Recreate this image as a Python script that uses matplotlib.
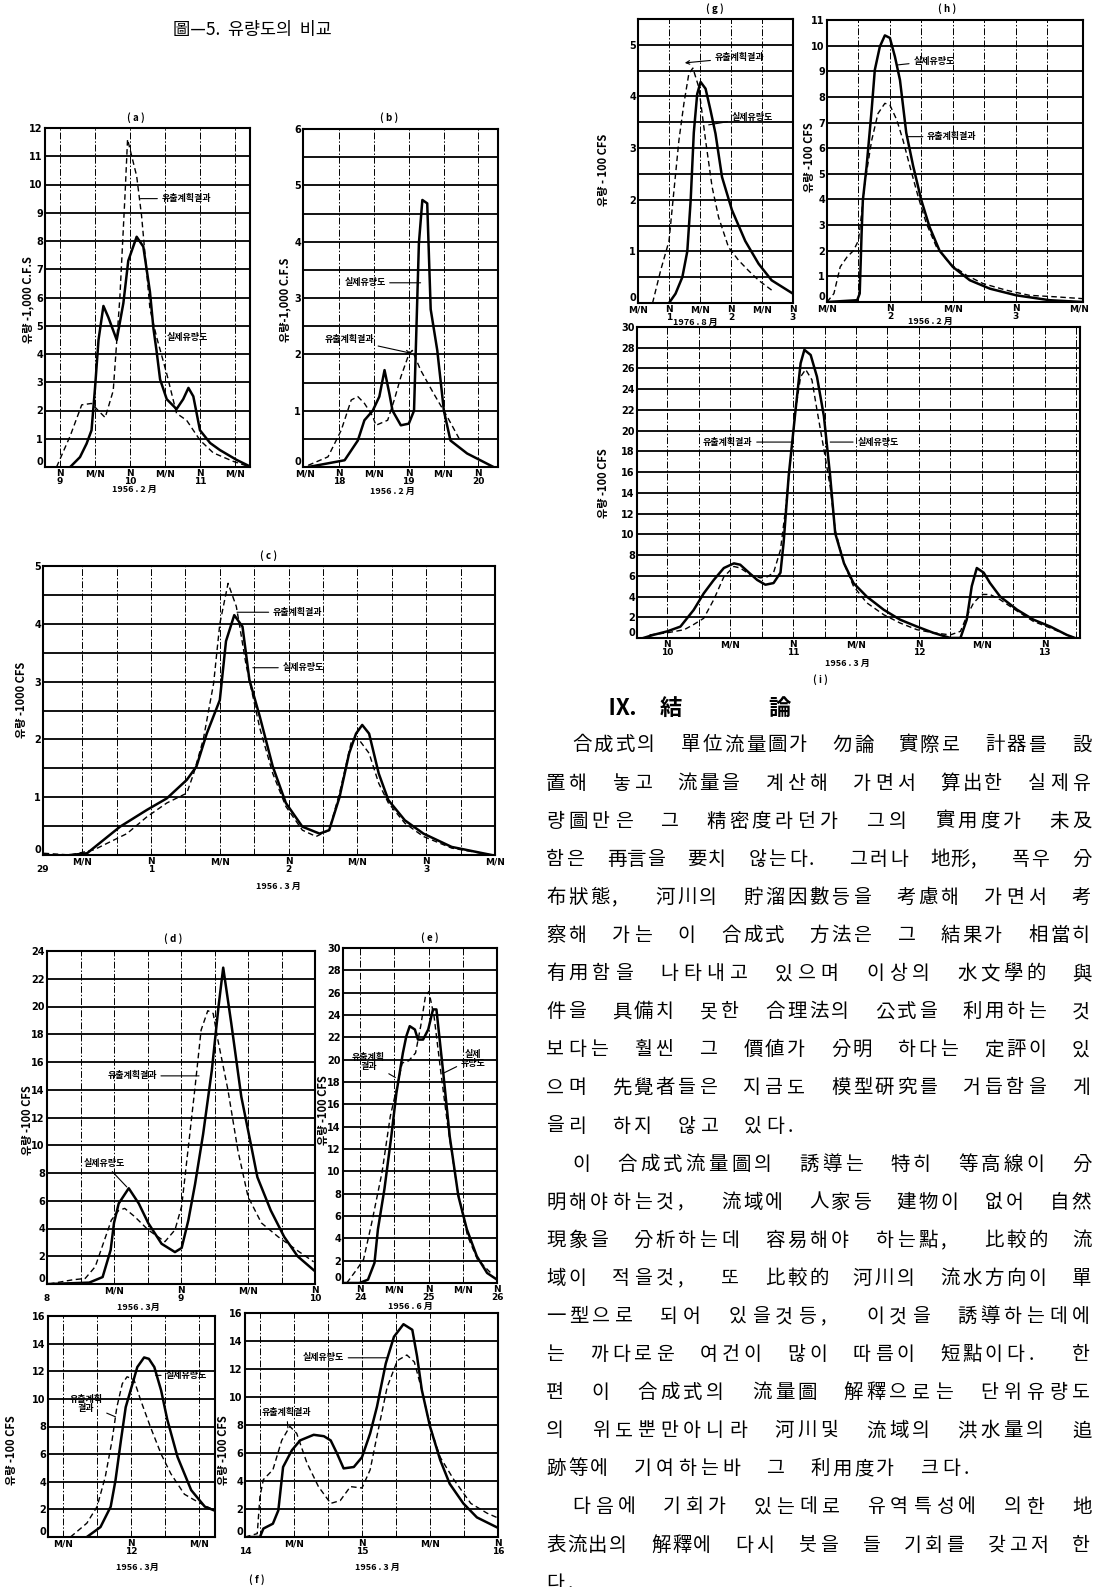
import matplotlib
matplotlib.use("Agg")
import matplotlib.pyplot as plt
import numpy as np

plt.rcParams['font.family'] = ['Noto Sans CJK KR', 'DejaVu Sans']

# ---- data (x in half-day units, y in flow units) ----
a_sx = [0.29, 0.57, 0.76, 0.9, 1.0, 1.1, 1.24, 1.38, 1.62, 1.81, 1.95, 2.19, 2.38, 2.57, 2.67, 2.76, 2.86, 3.05, 3.33, 3.52, 3.67, 3.81, 4.0, 4.29, 4.57, 5.05, 5.43]
a_sy = [0, 0.35, 0.83, 1.3, 2.8, 4.5, 5.7, 5.3, 4.5, 5.8, 7.3, 8.15, 7.8, 6.2, 4.9, 4.1, 3.1, 2.4, 2.05, 2.4, 2.8, 2.5, 1.3, 0.85, 0.6, 0.25, 0.02]
a_dx = [-0.1, 0.29, 0.62, 0.9, 1.09, 1.29, 1.52, 1.71, 1.86, 1.93, 2.05, 2.19, 2.33, 2.57, 2.76, 3.05, 3.33, 3.62, 4.0, 4.38, 4.95, 5.43]
a_dy = [0, 1.1, 2.2, 2.25, 2.0, 1.75, 2.7, 6.0, 9.7, 11.6, 11.0, 10.3, 8.9, 5.6, 4.6, 3.3, 1.9, 1.65, 0.95, 0.5, 0.2, 0.0]

b_sx = [0.1, 1.15, 1.53, 1.72, 1.96, 2.15, 2.3, 2.44, 2.53, 2.77, 3.0, 3.15, 3.29, 3.39, 3.53, 3.63, 3.82, 4.01, 4.2, 4.68, 5.44]
b_sy = [0, 0.12, 0.47, 0.83, 1.0, 1.25, 1.72, 1.3, 1.0, 0.74, 0.77, 1.0, 3.97, 4.74, 4.68, 2.8, 2.07, 1.0, 0.47, 0.24, 0.0]
b_dx = [0.1, 0.67, 1.05, 1.34, 1.53, 1.72, 1.96, 2.05, 2.39, 2.58, 2.77, 3.0, 3.1, 3.34, 3.72, 4.1, 4.48]
b_dy = [0.03, 0.18, 0.65, 1.19, 1.25, 1.13, 0.9, 0.74, 0.83, 1.19, 1.6, 2.0, 2.07, 1.72, 1.3, 0.9, 0.47]

c_sx = [-0.17, 0.07, 0.55, 0.94, 1.23, 1.52, 1.66, 1.81, 2.0, 2.09, 2.21, 2.33, 2.43, 2.58, 2.77, 2.96, 3.2, 3.45, 3.59, 3.74, 3.88, 3.98, 4.07, 4.17, 4.31, 4.45, 4.69, 4.96, 5.37, 5.95]
c_sy = [0, 0.03, 0.49, 0.78, 0.98, 1.3, 1.53, 2.1, 2.68, 3.7, 4.15, 3.95, 3.03, 2.4, 1.53, 0.9, 0.49, 0.37, 0.43, 1.0, 1.76, 2.1, 2.25, 2.1, 1.41, 0.95, 0.6, 0.37, 0.14, 0.0]
c_dx = [-0.56, -0.17, 0.17, 0.65, 0.94, 1.23, 1.52, 1.62, 1.76, 1.91, 2.0, 2.12, 2.24, 2.29, 2.38, 2.58, 2.77, 2.96, 3.2, 3.4, 3.59, 3.74, 3.92, 4.02, 4.17, 4.31, 4.45, 4.69, 4.96, 5.37, 5.95]
c_dy = [0.03, 0.0, 0.09, 0.37, 0.66, 0.9, 1.07, 1.41, 2.0, 2.97, 4.0, 4.7, 4.3, 3.95, 3.3, 2.2, 1.41, 0.84, 0.43, 0.32, 0.43, 1.07, 2.0, 2.0, 1.76, 1.24, 0.9, 0.55, 0.32, 0.12, 0.0]

d_sx = [-0.97, -0.37, -0.17, -0.05, 0.0, 0.07, 0.22, 0.37, 0.51, 0.71, 0.91, 1.01, 1.11, 1.21, 1.33, 1.46, 1.56, 1.63, 1.75, 1.9, 2.05, 2.14, 2.34, 2.54, 2.74, 2.98]
d_sy = [0, 0.1, 0.5, 2.45, 4.4, 5.8, 6.9, 5.8, 4.4, 2.9, 2.3, 2.6, 4.6, 7.2, 10.8, 15.4, 20.0, 22.8, 18.8, 13.5, 9.9, 7.7, 5.3, 3.4, 2.0, 1.0]
d_dx = [-0.97, -0.62, -0.43, -0.28, -0.14, -0.04, 0.07, 0.16, 0.31, 0.51, 0.76, 0.91, 1.01, 1.11, 1.21, 1.3, 1.4, 1.48, 1.55, 1.7, 1.85, 2.0, 2.2, 2.45, 2.74, 2.98]
d_dy = [0, 0.3, 0.4, 1.25, 3.2, 4.6, 5.3, 5.45, 4.85, 3.9, 3.05, 3.9, 5.6, 9.9, 14.2, 18.3, 19.7, 19.5, 17.6, 14.0, 9.6, 6.3, 4.4, 3.4, 2.4, 1.6]

e_sx = [-0.49, -0.02, 0.23, 0.42, 0.52, 0.71, 0.91, 1.06, 1.25, 1.35, 1.45, 1.6, 1.69, 1.84, 1.99, 2.13, 2.23, 2.43, 2.62, 2.87, 3.12, 3.41, 3.71, 4.0]
e_sy = [0, 0, 0.3, 1.8, 4.8, 8.4, 13.1, 17.0, 20.6, 22.1, 23.0, 22.7, 21.8, 21.8, 22.7, 24.5, 24.5, 18.8, 13.1, 7.8, 4.8, 2.4, 0.9, 0.3]
e_dx = [-0.39, -0.1, 0.1, 0.34, 0.64, 0.88, 1.08, 1.23, 1.42, 1.62, 1.77, 1.91, 2.01, 2.16, 2.35, 2.55, 2.84, 3.14, 3.43, 3.82]
e_dy = [0, 1.2, 2.1, 5.4, 9.9, 14.9, 17.6, 19.7, 19.9, 20.6, 23.0, 25.7, 26.1, 23.9, 19.1, 14.3, 8.4, 4.2, 2.1, 0.9]

f1_sx = [-0.65, -0.45, -0.3, -0.23, -0.15, -0.08, 0.02, 0.09, 0.19, 0.26, 0.34, 0.44, 0.53, 0.68, 0.88, 1.08, 1.23]
f1_sy = [0, 0.72, 2.2, 4.1, 7.0, 9.4, 11.1, 12.3, 13.0, 12.9, 12.3, 10.6, 8.5, 5.8, 3.4, 2.2, 1.9]
f1_dx = [-0.89, -0.65, -0.5, -0.38, -0.28, -0.21, -0.13, -0.06, 0.04, 0.14, 0.28, 0.44, 0.58, 0.78, 0.92, 1.11, 1.23]
f1_dy = [0, 1.0, 2.2, 4.35, 7.0, 9.4, 11.1, 11.6, 11.4, 9.9, 8.0, 6.0, 4.6, 3.1, 2.7, 2.2, 1.9]

f2_sx = [-1.65, -1.5, -1.45, -1.31, -1.23, -1.16, -1.03, -0.91, -0.71, -0.56, -0.46, -0.37, -0.27, -0.12, 0.0, 0.12, 0.22, 0.35, 0.47, 0.61, 0.74, 0.81, 0.88, 1.0, 1.15, 1.29, 1.49, 1.69, 1.98]
f2_sy = [0, 0, 0.6, 0.95, 1.9, 5.0, 6.2, 6.9, 7.3, 7.2, 6.9, 6.0, 4.9, 5.0, 5.7, 7.4, 9.3, 12.4, 14.3, 15.2, 14.8, 12.9, 10.5, 7.9, 5.5, 3.8, 2.4, 1.4, 0.7]
f2_dx = [-1.72, -1.54, -1.5, -1.45, -1.31, -1.18, -1.06, -0.96, -0.81, -0.64, -0.46, -0.32, -0.17, 0.0, 0.12, 0.22, 0.37, 0.52, 0.66, 0.77, 0.88, 1.0, 1.15, 1.35, 1.6, 1.84, 1.98]
f2_dy = [0, 0.24, 2.9, 4.1, 4.8, 6.9, 7.9, 7.4, 5.3, 3.6, 2.4, 2.6, 3.6, 3.5, 4.8, 7.2, 10.7, 12.6, 13.0, 12.5, 10.5, 7.9, 5.7, 4.1, 2.4, 1.7, 1.4]

g_sx = [0.0, 0.21, 0.43, 0.59, 0.7, 0.8, 0.91, 1.02, 1.18, 1.34, 1.5, 1.71, 2.03, 2.46, 2.89, 3.31, 4.0]
g_sy = [0, 0.18, 0.5, 1.0, 2.0, 3.3, 4.05, 4.28, 4.15, 3.73, 3.28, 2.44, 1.8, 1.2, 0.76, 0.44, 0.18]
g_dx = [-0.53, -0.27, 0.0, 0.16, 0.32, 0.48, 0.64, 0.77, 0.96, 1.18, 1.39, 1.6, 1.92, 2.24, 2.56, 2.89, 3.31]
g_dy = [0, 0.63, 1.2, 2.18, 3.15, 3.86, 4.44, 4.55, 4.18, 3.15, 2.25, 1.66, 1.08, 0.83, 0.63, 0.44, 0.25]

h_sx = [-1.0, -0.52, -0.48, -0.45, -0.43, -0.37, -0.29, -0.24, -0.16, -0.08, 0.0, 0.08, 0.16, 0.26, 0.37, 0.5, 0.63, 0.79, 1.0, 1.27, 1.59, 2.01, 2.54, 3.07]
h_sy = [0, 0.07, 0.33, 2.67, 3.97, 5.3, 7.5, 9.05, 9.96, 10.4, 10.3, 9.57, 8.66, 6.6, 5.3, 3.97, 2.93, 2.0, 1.37, 0.85, 0.52, 0.26, 0.07, 0.0]
h_dx = [-1.0, -0.89, -0.79, -0.68, -0.58, -0.5, -0.45, -0.4, -0.29, -0.19, -0.08, 0.0, 0.11, 0.21, 0.32, 0.45, 0.58, 0.74, 0.95, 1.22, 1.48, 1.85, 2.22, 2.65, 3.07]
h_dy = [0, 0.33, 1.37, 1.76, 2.0, 2.4, 3.45, 4.62, 6.3, 7.35, 7.75, 7.68, 7.1, 6.3, 5.27, 4.1, 3.06, 2.15, 1.5, 1.04, 0.72, 0.46, 0.26, 0.2, 0.13]

i_sx = [-0.38, -0.22, 0.0, 0.21, 0.42, 0.58, 0.74, 0.9, 1.06, 1.16, 1.3, 1.43, 1.56, 1.69, 1.8, 1.85, 1.93, 2.04, 2.12, 2.18, 2.28, 2.38, 2.49, 2.59, 2.67, 2.81, 2.96, 3.17, 3.44, 3.7, 3.97, 4.23, 4.5, 4.66, 4.76, 4.84, 4.92, 5.03, 5.13, 5.29, 5.56, 5.82, 6.09, 6.35, 6.48]
i_sy = [0, 0.3, 0.64, 1.1, 2.7, 4.3, 5.6, 6.75, 7.2, 7.07, 6.3, 5.6, 5.14, 5.3, 6.3, 9.2, 15.6, 22.0, 26.5, 27.8, 27.3, 25.2, 21.4, 15.6, 10.1, 7.2, 5.3, 4.0, 2.73, 1.77, 1.1, 0.5, 0.0, 0.0, 1.77, 5.0, 6.75, 6.3, 5.3, 4.0, 2.73, 1.77, 1.1, 0.3, 0.0]
i_dx = [-0.28, 0.0, 0.27, 0.42, 0.58, 0.74, 0.9, 1.06, 1.16, 1.32, 1.48, 1.59, 1.69, 1.8, 1.88, 1.96, 2.04, 2.12, 2.2, 2.3, 2.38, 2.49, 2.59, 2.67, 2.81, 2.96, 3.17, 3.44, 3.7, 3.97, 4.23, 4.5, 4.66, 4.76, 4.87, 5.0, 5.13, 5.29, 5.56, 5.82, 6.09, 6.35, 6.48]
i_dy = [0.3, 0.5, 0.8, 1.3, 1.9, 3.7, 5.9, 6.9, 6.75, 6.1, 5.8, 5.9, 6.3, 8.5, 12.4, 17.2, 22.0, 25.2, 25.9, 24.9, 22.0, 18.2, 14.6, 10.4, 7.2, 5.0, 3.4, 2.25, 1.45, 0.8, 0.5, 0.3, 0.64, 2.1, 3.4, 4.2, 4.2, 3.7, 2.6, 1.6, 0.96, 0.3, 0.0]

# tick labels
a_ticks = ["N\n9", "M/N", "N\n10", "M/N", "N\n11", "M/N"]
b_ticks = ["M/N", "N\n18", "M/N", "N\n19", "M/N", "N\n20"]
c_ticks = ["\n29", "M/N", "N\n1", "M/N", "N\n2", "M/N", "N\n3", "M/N"]
d_ticks = ["\n8", "M/N", "N\n9", "M/N", "N\n10"]
e_ticks = ["N\n24", "M/N", "N\n25", "M/N", "N\n26"]
f1_ticks = ["M/N", "N\n12", "M/N"]
f2_ticks = ["\n14", "M/N", "N\n15", "M/N", "N\n16"]
g_ticks = ["M/N", "N\n1", "M/N", "N\n2", "M/N", "N\n3"]
h_ticks = ["M/N", "N\n2", "M/N", "N\n3", "M/N"]
i_ticks = ["N\n10", "M/N", "N\n11", "M/N", "N\n12", "M/N", "N\n13"]

SIM = "유출계획결과"
OBS = "실제유량도"

body_lines = [
    "合成式의 單位流量圖가 勿論 實際로 計器를 設",
    "置해 놓고 流量을 계산해 가면서 算出한 실제유",
    "량圖만은 그 精密度라던가 그의 實用度가 未及",
    "함은 再言을 要치 않는다. 그러나 地形, 폭우 分",
    "布狀態, 河川의 貯溜因數등을 考慮해 가면서 考",
    "察해 가는 이 合成式 方法은 그 結果가 相當히",
    "有用함을 나타내고 있으며 이상의 水文學的 與",
    "件을 具備치 못한 合理法의 公式을 利用하는 것",
    "보다는 훨씬 그 價値가 分明 하다는 定評이 있",
    "으며 先覺者들은 지금도 模型硏究를 거듭함을 게",
    "을리 하지 않고 있다.",
    "이 合成式流量圖의 誘導는 特히 等高線이 分",
    "明해야하는것, 流域에 人家등 建物이 없어 自然",
    "現象을 分析하는데 容易해야 하는點, 比較的 流",
    "域이 적을것, 또 比較的 河川의 流水方向이 單",
    "一型으로 되어 있을것등, 이것을 誘導하는데에",
    "는 까다로운 여건이 많이 따름이 短點이다. 한",
    "편 이 合成式의 流量圖 解釋으로는 단위유량도",
    "의 위도뿐만아니라 河川및 流域의 洪水量의 追",
    "跡等에 기여하는바 그 利用度가 크다.",
    "다음에 기회가 있는데로 유역특성에 의한 地",
    "表流出의 解釋에 다시 붓을 들 기회를 갖고저 한",
    "다.",
]
indent_lines = [0, 11, 20]
para_end_lines = [10, 19, 22]

# ---- figure ----
W, H = 1094, 1587
fig = plt.figure(figsize=(W / 100, H / 100), dpi=100)
fig.patch.set_facecolor('white')


def fx(x):
    return x / W


def fy(y):
    return 1 - y / H


def px_axes(x0, y0, x1, y1):
    return fig.add_axes([fx(x0), fy(y1), (x1 - x0) / W, (y1 - y0) / H])


LAT = ['DejaVu Sans']


def panel(box, xlim, ylim, xt, xtl, hstep, ytick_step, vgrid, solid, dashed):
    ax = px_axes(*box)
    ax.set_xlim(xlim)
    ax.set_ylim(ylim)
    for yv in np.arange(ylim[0] + hstep, ylim[1] - 1e-6, hstep):
        ax.axhline(yv, color='k', lw=1.3, zorder=1)
    for xv in vgrid:
        ax.axvline(xv, color='k', lw=0.7, ls=(0, (7, 2, 1.5, 2)), zorder=1)
    ax.plot(solid[0], solid[1], color='k', lw=1.8, zorder=3)
    ax.plot(dashed[0], dashed[1], color='k', lw=1.0, ls=(0, (4, 2.5)), zorder=3)
    ax.set_xticks(xt)
    ax.set_xticklabels(xtl, family=LAT, fontsize=6.5, fontweight='bold', linespacing=0.85)
    yt = np.arange(ylim[0], ylim[1] + 1e-6, ytick_step)
    ax.set_yticks(yt)
    labs = ax.set_yticklabels([f"{v:g}" for v in yt], family=LAT, fontsize=7, fontweight='bold')
    labs[0].set_verticalalignment('bottom')
    ax.tick_params(length=0, pad=1.5)
    for s in ax.spines.values():
        s.set_linewidth(1.5)
    return ax


def note(ax, txt, xt, yt, xe=None, ye=None, ha='left', arrow='-'):
    if xe is None:
        ax.text(xt, yt, txt, ha=ha, va='center', fontsize=6.5, fontweight='bold', zorder=5)
        return
    ax.annotate(txt, xy=(xe, ye), xytext=(xt, yt), ha=ha, va='center', fontsize=6.5,
                fontweight='bold', linespacing=1.0, zorder=5,
                arrowprops=dict(arrowstyle=arrow, lw=0.8, color='k', shrinkA=1, shrinkB=0))


def ftext(x, y, s, size=8, **kw):
    fig.text(fx(x), fy(y), s, fontsize=size, ha=kw.pop('ha', 'center'), va=kw.pop('va', 'center'), **kw)


# (a)
ax = panel((45, 128, 250, 467), (-0.43, 5.43), (0, 12), range(6), a_ticks, 1, 1, range(6),
           (a_sx, a_sy), (a_dx, a_dy))
note(ax, SIM, 2.9, 9.5, 2.3, 9.5)
note(ax, OBS, 3.05, 4.6)
# (b)
ax = panel((303, 129, 498, 467), (-0.05, 5.57), (0, 6), range(6), b_ticks, 0.5, 1, range(1, 6),
           (b_sx, b_sy), (b_dx, b_dy))
note(ax, OBS, 1.14, 3.27, 3.34, 3.27)
note(ax, SIM, 0.57, 2.26, 3.06, 2.02, arrow='->')
# (c)
ax = panel((43, 566, 495, 855), (-0.57, 6.0), (0, 5), [-0.57] + list(range(7)), c_ticks, 0.5, 1,
           np.arange(0, 6.0, 0.5), (c_sx, c_sy), (c_dx, c_dy))
note(ax, SIM, 2.77, 4.2, 2.25, 4.2)
note(ax, OBS, 2.91, 3.24, 2.48, 3.24)
# (d)
ax = panel((47, 951, 315, 1284), (-1, 3), (0, 24), range(-1, 4), d_ticks, 2, 2,
           np.arange(-0.5, 3, 0.5), (d_sx, d_sy), (d_dx, d_dy))
note(ax, SIM, -0.1, 15.0, 1.27, 15.0)
note(ax, OBS, -0.45, 8.7, 0.19, 7.0)
# (e)
ax = panel((343, 948, 497, 1283), (-0.5, 4.0), (0, 30), range(5), e_ticks, 2, 2, range(4),
           (e_sx, e_sy), (e_dx, e_dy))
note(ax, "유출계획\n결과", 0.24, 19.8, 1.03, 18.4, ha='center')
note(ax, "실제\n유량도", 3.3, 20.1, 2.44, 18.8, ha='center')
# (f) left
ax = panel((48, 1316, 215, 1537), (-1.22, 1.23), (0, 16), [-1, 0, 1], f1_ticks, 2, 2,
           np.arange(-1, 1.1, 0.5), (f1_sx, f1_sy), (f1_dx, f1_dy))
note(ax, "유출계획\n결과", -0.66, 9.6, -0.23, 8.7, ha='center')
note(ax, OBS, 0.5, 11.7, 0.36, 11.7)
# (f) right
ax = panel((245, 1313, 498, 1537), (-1.72, 2.0), (0, 16), [-1.72, -1, 0, 1, 2], f2_ticks, 2, 2,
           np.arange(-1.5, 2.0, 0.5), (f2_sx, f2_sy), (f2_dx, f2_dy))
note(ax, OBS, -0.87, 12.8, 0.37, 12.8)
note(ax, SIM, -1.47, 8.86, -1.09, 7.8)
# (g)
ax = panel((638, 19, 793, 303), (-1, 4), (0, 5.5), range(-1, 5), g_ticks, 0.5, 1, range(4),
           (g_sx, g_sy), (g_dx, g_dy))
note(ax, SIM, 1.47, 4.75, 0.51, 4.65, arrow='->')
note(ax, OBS, 2.02, 3.59, 1.28, 3.45)
# (h)
ax = panel((827, 20, 1083, 302), (-1, 3.07), (0, 11), range(-1, 4), h_ticks, 1, 1,
           np.arange(-0.5, 3.0, 0.5), (h_sx, h_sy), (h_dx, h_dy))
note(ax, OBS, 0.37, 9.4, 0.13, 9.25)
note(ax, SIM, 0.59, 6.45, 0.29, 6.45)
# (i)
ax = panel((637, 327, 1080, 638), (-0.48, 6.56), (0, 30), range(7), i_ticks, 2, 2,
           np.arange(0, 6.6, 0.5), (i_sx, i_sy), (i_dx, i_dy))
note(ax, SIM, 0.57, 18.9, 2.0, 18.9)
note(ax, OBS, 3.02, 18.9, 2.59, 18.9)

# panel captions, dates, y labels
for (x, y, s) in [(136, 118, "( a )"), (389, 118, "( b )"), (269, 556, "( c )"), (173, 939, "( d )"),
                  (430, 938, "( e )"), (715, 9, "( g )"), (947, 9, "( h )"), (820, 680, "( i )"),
                  (257, 1580, "( f )")]:
    ftext(x, y, s, 7, fontweight='bold')

for (x, y, s) in [(134, 489, "1956 . 2 月"), (392, 491, "1956 . 2 月"), (278, 886, "1956 . 3 月"),
                  (138, 1307, "1956 . 3月"), (410, 1306, "1956 . 6 月"), (137, 1567, "1956 . 3月"),
                  (377, 1567, "1956 . 3 月"), (695, 322, "1976 . 8 月"), (930, 321, "1956 . 2 月"),
                  (847, 663, "1956 . 3 月")]:
    ftext(x, y, s, 6.5, fontweight='bold')

for (x, y, s) in [(28, 300, "유량 -1,000 C.F.S"), (285, 300, "유량-1,000 C.F.S"),
                  (22, 700, "유량 -1000 CFS"), (27, 1120, "유량 -100 CFS"), (323, 1110, "유량 -100 CFS"),
                  (12, 1450, "유량 -100 CFS"), (224, 1450, "유량 -100 CFS"), (603, 170, "유량 - 100 CFS"),
                  (810, 157, "유량 -100 CFS"), (603, 483, "유량 -100 CFS")]:
    ftext(x, y, s, 8, rotation=90, fontweight='bold')

# figure title
ftext(252, 30, "圖—5.  유량도의  비교", 12.5)

# conclusion heading
ftext(607, 708, "Ⅸ.", 16, ha='left', fontweight='bold')
ftext(660, 708, "結", 16, ha='left', fontweight='bold')
ftext(768, 708, "論", 16, ha='left', fontweight='bold')

# justified body text, one character per slot
X0, XI, XEND, PITCH = 546, 572, 1072, 22.0
for k, line in enumerate(body_lines):
    y = 745 + 38.1 * k
    x0 = XI if k in indent_lines else X0
    step = PITCH if k in para_end_lines else (XEND - x0) / (len(line) - 1)
    for j, ch in enumerate(line):
        if ch != ' ':
            fig.text(fx(x0 + j * step), fy(y), ch, fontsize=14, ha='left', va='center')

fig.savefig("out.png", dpi=100, facecolor='white')
